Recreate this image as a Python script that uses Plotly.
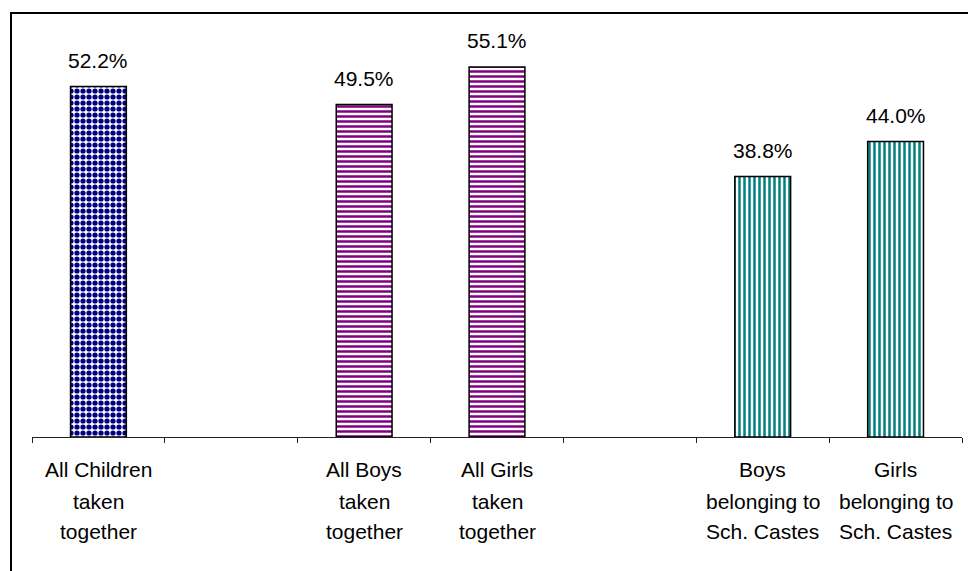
import plotly.graph_objects as go

# Data
slots = [0, 1, 2, 3, 4, 5, 6]
values = [52.2, None, 49.5, 55.1, None, 38.8, 44.0]
label_lines = [
    ["All Children", "taken", "together"],
    [],
    ["All Boys", "taken", "together"],
    ["All Girls", "taken", "together"],
    [],
    ["Boys", "belonging to", "Sch. Castes"],
    ["Girls", "belonging to", "Sch. Castes"],
]
fg_colors = ["#000080", None, "#800080", "#800080", None, "#008080", "#008080"]
pattern_shapes = [".", "", "-", "-", "", "|", "|"]

FONT = "Liberation Sans, Arial, sans-serif"
FS = 21

fig = go.Figure()
for x, v, fg, shp in zip(slots, values, fg_colors, pattern_shapes):
    if v is None:
        continue
    fig.add_trace(go.Bar(
        x=[x], y=[v], width=0.42,
        marker=dict(
            color="white",
            line=dict(color="black", width=1.5),
            pattern=dict(shape=shp, fgcolor=fg, fgopacity=1,
                         size=5 if shp != "." else 6,
                         solidity=0.5 if shp != "." else 0.6,
                         fillmode="replace"),
        ),
        showlegend=False, hoverinfo="skip",
    ))
    fig.add_annotation(x=x, y=v, xref="x", yref="y", text=f"{v:.1f}%",
                       showarrow=False, yanchor="middle", yshift=26,
                       font=dict(family=FONT, size=FS, color="black"))

shifts = [-32, -64, -94]
for x, lines in zip(slots, label_lines):
    for line, sh in zip(lines, shifts):
        fig.add_annotation(x=x, y=0, xref="x", yref="paper", text=line,
                           showarrow=False, yanchor="middle", yshift=sh,
                           font=dict(family=FONT, size=FS, color="black"))

# outer border
fig.add_shape(type="rect", xref="paper", yref="paper",
              x0=(11 - 32) / 930, x1=1.2, y0=-0.5, y1=(437 - 13) / 403,
              line=dict(color="black", width=2), layer="above")

fig.update_layout(
    width=968, height=571,
    margin=dict(l=32, r=6, t=34, b=134),
    plot_bgcolor="white", paper_bgcolor="white",
    barmode="overlay",
    font=dict(family=FONT, size=FS, color="black"),
    xaxis=dict(range=[-0.5, 6.5], tickmode="array",
               tickvals=[i - 0.5 for i in range(8)],
               ticks="outside", ticklen=5, tickcolor="#222", tickwidth=1,
               showticklabels=False, showline=True, linecolor="#222",
               linewidth=1, showgrid=False, zeroline=False),
    yaxis=dict(range=[0, 60], visible=False, showgrid=False, zeroline=False),
)

fig.write_html("out.html")
